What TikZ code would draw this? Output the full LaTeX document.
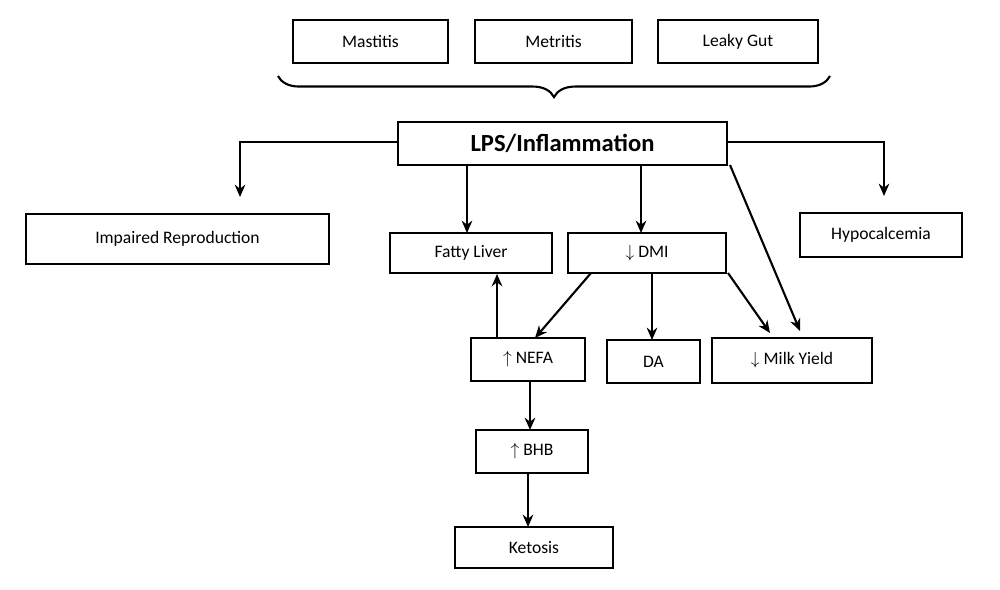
\documentclass[tikz,border=0pt]{standalone}
\usepackage{fontspec}
\setmainfont{Carlito}
\usetikzlibrary{arrows.meta, decorations.pathreplacing}

\tikzset{
    box/.style={draw, line width=1.2pt, font=\fontsize{10}{12}\selectfont, inner sep=0pt},
    link/.style={-{Stealth[length=7pt,width=6pt]}, line width=1.2pt}
}

\begin{document}
\begin{tikzpicture}[x=0.02cm, y=-0.02cm]
        \useasboundingbox (0,0) rectangle (1000,589);

        % causes
        \node[box, minimum width=155*0.02cm, minimum height=43*0.02cm] (mast) at (370.5,41.5) {Mastitis};
        \node[box, minimum width=157*0.02cm, minimum height=43*0.02cm] (metr) at (553.5,41.5) {Metritis};
        \node[box, minimum width=160*0.02cm, minimum height=43*0.02cm] (gut) at (738,41.5) {Leaky Gut};
        \draw[line width=1.2pt, decorate, decoration={brace, mirror, amplitude=12pt}]
            (278,76) -- (830,76);

        % central node
        \node[box, minimum width=329*0.02cm, minimum height=43*0.02cm,
            font=\fontsize{14}{16}\selectfont\bfseries] (lps) at (562.5,143.5) {LPS/Inflammation};

        % effects
        \node[box, minimum width=303*0.02cm, minimum height=50*0.02cm] (repro) at (177.5,239) {Impaired Reproduction};
        \node[box, minimum width=162*0.02cm, minimum height=40*0.02cm] (liver) at (471,253) {Fatty Liver};
        \node[box, minimum width=158*0.02cm, minimum height=40*0.02cm] (dmi) at (647,253) {$\downarrow$ DMI};
        \node[box, minimum width=162*0.02cm, minimum height=44*0.02cm] (hypo) at (881,235) {Hypocalcemia};
        \node[box, minimum width=114*0.02cm, minimum height=43*0.02cm] (nefa) at (528,359.5) {$\uparrow$ NEFA};
        \node[box, minimum width=93*0.02cm, minimum height=43*0.02cm] (da) at (653.5,361.5) {DA};
        \node[box, minimum width=160*0.02cm, minimum height=45*0.02cm] (milk) at (792,360.5) {$\downarrow$ Milk Yield};
        \node[box, minimum width=112*0.02cm, minimum height=43*0.02cm] (bhb) at (532,451.5) {$\uparrow$ BHB};
        \node[box, minimum width=158*0.02cm, minimum height=41*0.02cm] (keto) at (534,547.5) {Ketosis};

        \coordinate (reproend) at (240,197);
        \coordinate (hypoend) at (884,196);

        \draw[link] (lps.west |- 0,142) -| (reproend);
        \draw[link] (lps.east |- 0,142) -| (hypoend);
        \draw[link] (467,165) -- (467,233);
        \draw[link] (641,165) -- (641,233);
        \draw[link] (730,165) -- (800,331);
        \draw[link] (591,273) -- (535,338);
        \draw[link] (652,273) -- (652,340);
        \draw[link] (728,273) -- (770,333);
        \draw[link] (497,338) -- (497,274);
        \draw[link] (530,381) -- (530,430);
        \draw[link] (528,473) -- (528,527);
\end{tikzpicture}
\end{document}
